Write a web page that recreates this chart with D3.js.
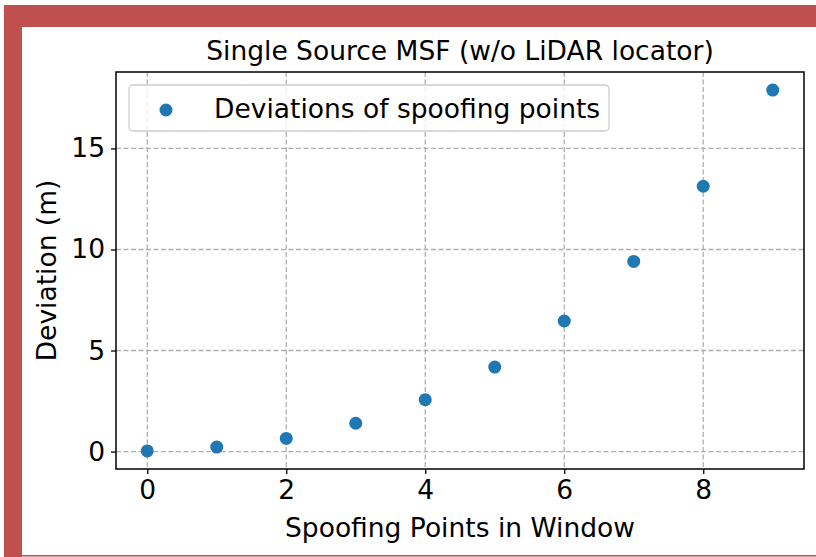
<!DOCTYPE html>
<html>
<head>
<meta charset="utf-8">
<script src="https://cdn.jsdelivr.net/npm/d3@7"></script>
<style>
  body { margin: 0; background: #fff; }
  text { font-family: "DejaVu Sans", sans-serif; fill: #000; }
</style>
</head>
<body>
<svg width="816" height="557"></svg>
<script>
const xValues = [0, 1, 2, 3, 4, 5, 6, 7, 8, 9];
const deviations = [0.03, 0.22, 0.65, 1.40, 2.57, 4.18, 6.46, 9.41, 13.13, 17.89];
const xTicks = [0, 2, 4, 6, 8];
const yTicks = [0, 5, 10, 15];
const title = "Single Source MSF (w/o LiDAR locator)";
const legendLabel = "Deviations of spoofing points";

const svg = d3.select('svg');
const margin = { top: 72, left: 116, right: 12, bottom: 88 };
const width = +svg.attr('width') - margin.left - margin.right;
const height = +svg.attr('height') - margin.top - margin.bottom;
const color = '#1f77b4';
const fontSize = 26.5;

// red frame around the figure
svg.append('rect').attr('x', 4).attr('y', 5).attr('width', 812).attr('height', 22).attr('fill', '#c0504d');
svg.append('rect').attr('x', 4).attr('y', 5).attr('width', 18).attr('height', 552).attr('fill', '#c0504d');
svg.append('rect').attr('x', 4).attr('y', 555).attr('width', 812).attr('height', 1.5).attr('fill', '#c0504d');

const g = svg.append('g').attr('transform', `translate(${margin.left}, ${margin.top})`);

const x = d3.scaleLinear().domain([-0.45, 9.45]).range([0, width]);
const yMin = d3.min(deviations), yMax = d3.max(deviations), pad = (yMax - yMin) * 0.05;
const y = d3.scaleLinear().domain([yMin - pad, yMax + pad]).range([height, 0]);

// grid
g.append('g').selectAll('line').data(xTicks).join('line')
    .attr('x1', d => x(d)).attr('x2', d => x(d))
    .attr('y1', 0).attr('y2', height)
    .attr('stroke', '#b0b0b0').attr('stroke-width', 1.3).attr('stroke-dasharray', '5,2.5');
g.append('g').selectAll('line').data(yTicks).join('line')
    .attr('y1', d => y(d)).attr('y2', d => y(d))
    .attr('x1', 0).attr('x2', width)
    .attr('stroke', '#b0b0b0').attr('stroke-width', 1.3).attr('stroke-dasharray', '5,2.5');

// axes
const xAxis = g.append('g')
    .attr('transform', `translate(0, ${height})`)
    .call(d3.axisBottom(x).tickValues(xTicks).tickSize(5).tickPadding(6).tickFormat(d3.format('d')));
const yAxis = g.append('g')
    .call(d3.axisLeft(y).tickValues(yTicks).tickSize(5).tickPadding(6).tickFormat(d3.format('d')));
[xAxis, yAxis].forEach(a => {
    a.select('.domain').remove();
    a.selectAll('.tick line').attr('stroke', '#000').attr('stroke-width', 1.3);
    a.selectAll('.tick text').style('font-size', fontSize + 'px').style('font-family', '"DejaVu Sans", sans-serif').attr('fill', '#000');
});

// frame of the axes
g.append('rect').attr('width', width).attr('height', height)
    .attr('fill', 'none').attr('stroke', '#000').attr('stroke-width', 1.5);

// points
g.append('g').selectAll('circle').data(xValues).join('circle')
    .attr('cx', d => x(d))
    .attr('cy', (d, i) => y(deviations[i]))
    .attr('r', 6.5)
    .attr('fill', color);

// legend
const legend = g.append('g').attr('transform', 'translate(13, 13)');
legend.append('rect')
    .attr('width', 480).attr('height', 46).attr('rx', 4)
    .attr('fill', '#fff').attr('fill-opacity', 0.8)
    .attr('stroke', '#cccccc').attr('stroke-width', 1.3);
legend.append('circle').attr('cx', 37).attr('cy', 25).attr('r', 6.5).attr('fill', color);
legend.append('text').attr('x', 85).attr('y', 33).style('font-size', fontSize + 'px').text(legendLabel);

// labels
svg.append('text').attr('x', margin.left + width / 2).attr('y', 60)
    .attr('text-anchor', 'middle').style('font-size', fontSize + 'px').text(title);
svg.append('text').attr('x', margin.left + width / 2).attr('y', 537)
    .attr('text-anchor', 'middle').style('font-size', fontSize + 'px').text('Spoofing Points in Window');
svg.append('text')
    .attr('transform', `translate(56, ${margin.top + height / 2}) rotate(-90)`)
    .attr('text-anchor', 'middle').style('font-size', fontSize + 'px').text('Deviation (m)');
</script>
</body>
</html>
